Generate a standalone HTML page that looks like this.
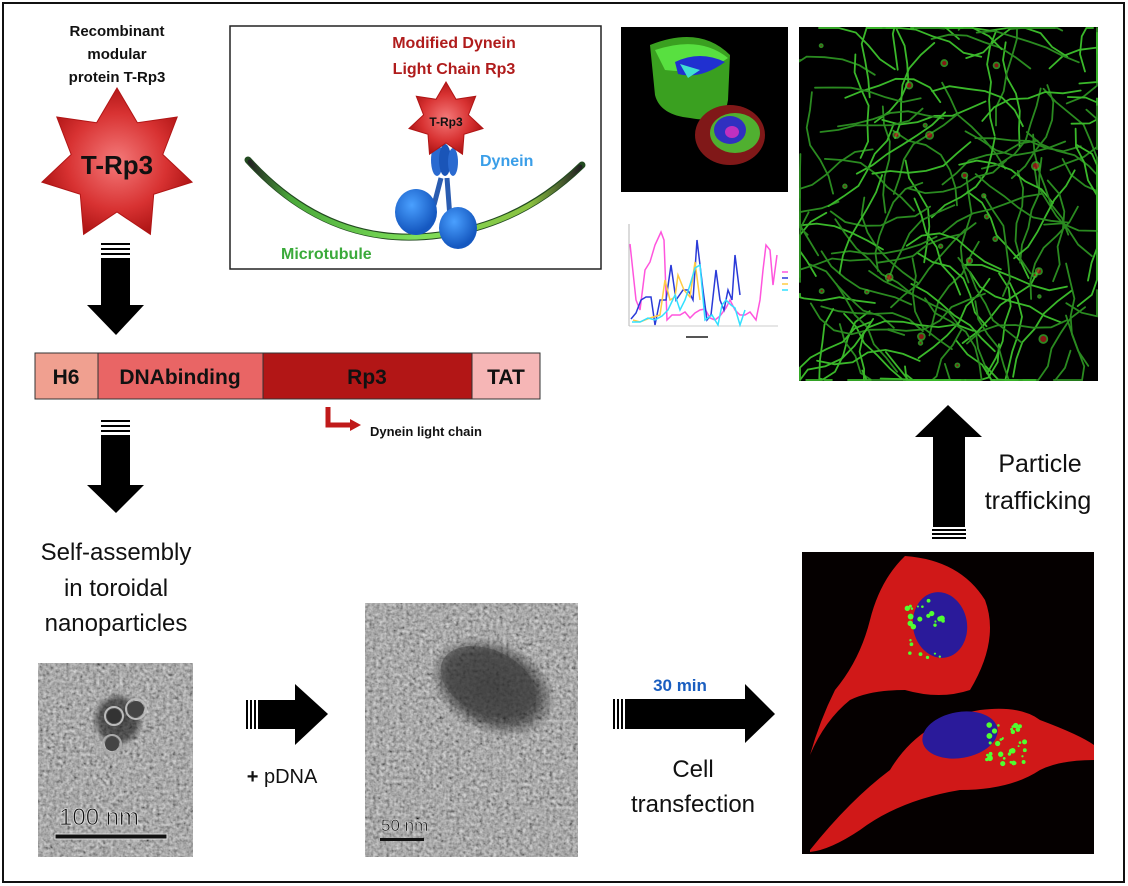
<!DOCTYPE html>
<html><head><meta charset="utf-8">
<style>
html,body{margin:0;padding:0;background:#fff;}
svg{display:block;}
text{font-family:"Liberation Sans","DejaVu Sans",sans-serif;}
</style></head>
<body>
<svg id="s" width="1128" height="886" viewBox="0 0 1128 886" xmlns="http://www.w3.org/2000/svg">
<defs>
<radialGradient id="star" cx="50%" cy="50%" r="55%">
<stop offset="0" stop-color="#f47a7a"/><stop offset="0.6" stop-color="#d83232"/><stop offset="1" stop-color="#a81010"/>
</radialGradient>
<linearGradient id="mt" x1="0" x2="1"><stop offset="0" stop-color="#222"/><stop offset="0.12" stop-color="#4aa83a"/><stop offset="0.5" stop-color="#7ee05a"/><stop offset="0.85" stop-color="#8ac040"/><stop offset="1" stop-color="#222"/></linearGradient>
<filter id="noise" x="0" y="0" width="100%" height="100%">
<feTurbulence type="fractalNoise" baseFrequency="0.3" numOctaves="2" seed="3"/>
<feColorMatrix type="matrix" values="0.33 0.33 0.33 0 0  0.33 0.33 0.33 0 0  0.33 0.33 0.33 0 0  0 0 0 0 1"/>
<feComponentTransfer><feFuncR type="linear" slope="1.5" intercept="-0.3"/><feFuncG type="linear" slope="1.5" intercept="-0.3"/><feFuncB type="linear" slope="1.5" intercept="-0.3"/></feComponentTransfer>
</filter>
<radialGradient id="blob" cx="50%" cy="50%" r="50%"><stop offset="0" stop-color="#000" stop-opacity="0.6"/><stop offset="0.7" stop-color="#000" stop-opacity="0.5"/><stop offset="1" stop-color="#000" stop-opacity="0"/></radialGradient>
<radialGradient id="blue" cx="40%" cy="35%" r="60%"><stop offset="0" stop-color="#4aa0ff"/><stop offset="1" stop-color="#1558c0"/></radialGradient>
</defs>

<rect x="3" y="3" width="1121" height="879" fill="#fff" stroke="#111" stroke-width="2"/>

<g font-weight="bold" font-size="15" text-anchor="middle" fill="#111">
<text x="117" y="36">Recombinant</text>
<text x="117" y="59">modular</text>
<text x="117" y="82">protein T-Rp3</text>
</g>
<polygon id="bigstar" fill="url(#star)" stroke="#b01515" stroke-width="1"/>
<text x="117" y="174" font-size="26" font-weight="bold" text-anchor="middle" fill="#111">T-Rp3</text>

<g fill="#000">
<rect x="101" y="243" width="29" height="2"/><rect x="101" y="248" width="29" height="2"/><rect x="101" y="253" width="29" height="2"/>
<rect x="101" y="258" width="29" height="48"/>
<polygon points="87,305 144,305 116,335"/>
</g>

<rect x="230" y="26" width="371" height="243" fill="#fff" stroke="#222" stroke-width="1.5"/>
<g font-weight="bold" font-size="16" text-anchor="middle" fill="#b01c1c">
<text x="454" y="48">Modified Dynein</text>
<text x="454" y="74">Light Chain Rp3</text>
</g>
<path d="M248,160 Q330,250 440,235 Q520,225 582,165" fill="none" stroke="#224a20" stroke-width="7" stroke-linecap="round"/>
<path d="M250,162 Q330,250 440,235 Q520,225 580,167" fill="none" stroke="url(#mt)" stroke-width="5" stroke-linecap="round"/>
<path d="M441,178 L434,205 M447,178 L450,218" stroke="#2a5cb0" stroke-width="5" fill="none"/>
<ellipse cx="437" cy="160" rx="6" ry="16" fill="#2a6ad0"/><ellipse cx="445" cy="160" rx="6" ry="16" fill="#1a55b8"/><ellipse cx="453" cy="162" rx="5" ry="14" fill="#2a6ad0"/>
<ellipse cx="416" cy="212" rx="21" ry="23" fill="url(#blue)"/>
<ellipse cx="458" cy="228" rx="19" ry="21" fill="url(#blue)"/>
<polygon id="smallstar" fill="url(#star)" stroke="#b01515" stroke-width="1"/>
<text x="446" y="126" font-size="12" font-weight="bold" text-anchor="middle" fill="#111">T-Rp3</text>
<text x="480" y="166" font-size="16" font-weight="bold" fill="#3a9ee8">Dynein</text>
<text x="281" y="259" font-size="16" font-weight="bold" fill="#3aaa3a">Microtubule</text>

<g stroke="#333" stroke-width="1">
<rect x="35" y="353" width="63" height="46" fill="#f0a090"/>
<rect x="98" y="353" width="165" height="46" fill="#e96565"/>
<rect x="263" y="353" width="209" height="46" fill="#b21616"/>
<rect x="472" y="353" width="68" height="46" fill="#f6b6b6"/>
</g>
<g font-weight="bold" font-size="21" fill="#111" text-anchor="middle">
<text x="66" y="384">H6</text><text x="180" y="384">DNAbinding</text><text x="367" y="384">Rp3</text><text x="506" y="384">TAT</text>
</g>
<path d="M328,407 L328,425 L352,425" fill="none" stroke="#c01a1a" stroke-width="5"/>
<polygon points="350,419 361,425 350,431" fill="#c01a1a"/>
<text x="370" y="436" font-size="13" font-weight="bold" fill="#111">Dynein light chain</text>

<g fill="#000">
<rect x="101" y="420" width="29" height="2"/><rect x="101" y="425" width="29" height="2"/><rect x="101" y="430" width="29" height="2"/>
<rect x="101" y="435" width="29" height="51"/>
<polygon points="87,485 144,485 116,513"/>
</g>
<g font-size="24" text-anchor="middle" fill="#111">
<text x="116" y="560">Self-assembly</text>
<text x="116" y="596">in toroidal</text>
<text x="116" y="631">nanoparticles</text>
</g>

<rect x="38" y="663" width="155" height="194" fill="#777"/>
<rect x="38" y="663" width="155" height="194" filter="url(#noise)" opacity="0.85"/>
<ellipse cx="118" cy="720" rx="26" ry="28" fill="url(#blob)"/>
<circle cx="114" cy="716" r="9" fill="none" stroke="#bbb" stroke-width="2"/><circle cx="114" cy="716" r="7" fill="#333"/>
<circle cx="136" cy="709" r="10" fill="none" stroke="#bbb" stroke-width="2"/><circle cx="136" cy="709" r="8" fill="#444"/>
<circle cx="112" cy="744" r="9" fill="none" stroke="#aaa" stroke-width="2"/><circle cx="112" cy="744" r="7" fill="#444"/>
<text x="59" y="825" font-size="24" fill="#111" stroke="#ddd" stroke-width="0.8">100  nm</text>
<rect x="55" y="834" width="112" height="5" fill="#111" stroke="#ddd" stroke-width="1"/>

<g fill="#000">
<rect x="246" y="700" width="2" height="29"/><rect x="250" y="700" width="2" height="29"/><rect x="254" y="700" width="2" height="29"/>
<rect x="258" y="700" width="38" height="29"/>
<polygon points="295,684 295,745 328,714"/>
</g>
<text x="282" y="783" font-size="20" text-anchor="middle" fill="#111"><tspan font-weight="bold">+</tspan> pDNA</text>

<rect x="365" y="603" width="213" height="254" fill="#777"/>
<rect x="365" y="603" width="213" height="254" filter="url(#noise)" opacity="0.85"/>
<ellipse cx="493" cy="687" rx="66" ry="46" transform="rotate(25 493 687)" fill="url(#blob)"/>
<ellipse cx="488" cy="682" rx="50" ry="32" transform="rotate(25 488 682)" fill="#444" opacity="0.5"/>
<text x="381" y="831" font-size="17" fill="#111" stroke="#ddd" stroke-width="0.5">50 nm</text>
<rect x="380" y="838" width="44" height="3" fill="#111"/>

<g fill="#000">
<rect x="613" y="699" width="2" height="30"/><rect x="617" y="699" width="2" height="30"/><rect x="621" y="699" width="2" height="30"/>
<rect x="625" y="699" width="122" height="30"/>
<polygon points="745,684 745,743 775,714"/>
</g>
<text x="680" y="691" font-size="17" font-weight="bold" text-anchor="middle" fill="#1a5ec0">30 min</text>
<g font-size="24" text-anchor="middle" fill="#111">
<text x="693" y="777">Cell</text>
<text x="693" y="812">transfection</text>
</g>

<rect x="802" y="552" width="292" height="302" fill="#050000"/>
<g id="cells"></g>

<g fill="#000">
<polygon points="948,405 915,437 982,437"/>
<rect x="933" y="436" width="32" height="91"/>
<rect x="932" y="529" width="34" height="2"/><rect x="932" y="533" width="34" height="2"/><rect x="932" y="537" width="34" height="2"/>
</g>
<g font-size="25" fill="#111" text-anchor="middle">
<text x="1040" y="472">Particle</text>
<text x="1038" y="509">trafficking</text>
</g>

<rect x="621" y="27" width="167" height="165" fill="#000"/>
<path d="M650,45 Q700,25 730,55 L728,100 Q725,125 690,118 Q660,115 655,95 Z" fill="#3aa020"/>
<path d="M655,50 Q700,35 728,58 Q705,75 665,70 Z" fill="#58e040"/>
<path d="M675,62 Q700,50 725,62 Q700,80 678,74 Z" fill="#2030d0"/>
<path d="M680,64 L700,70 L688,78 Z" fill="#40e0d0"/>
<ellipse cx="730" cy="135" rx="35" ry="30" fill="#801818"/>
<ellipse cx="735" cy="133" rx="25" ry="20" fill="#50b030"/>
<ellipse cx="730" cy="130" rx="16" ry="14" fill="#3030c0"/>
<ellipse cx="732" cy="132" rx="7" ry="6" fill="#c030c0"/>

<g fill="none" stroke-width="1.5">
<line x1="629" y1="224" x2="629" y2="326" stroke="#999" stroke-width="0.7"/>
<line x1="629" y1="326" x2="778" y2="326" stroke="#bbb" stroke-width="0.7"/>
<polyline stroke="#ff55dd" points="630,244 636,300 640,310 645,270 650,262 655,245 661,232 664,240 667,320 672,315 680,315 685,312 690,318 695,313 700,310 705,309 710,318 715,320 720,316 726,308 730,300 735,310 740,315 745,315 750,312 756,320 760,300 763,270 766,245 770,250 773,285 777,255"/>
<polyline stroke="#2a3ad8" points="631,319 636,313 641,300 646,297 651,297 655,325 660,300 666,300 671,265 676,300 683,290 688,290 693,300 697,240 703,290 707,320 711,315 716,270 720,300 724,310 728,290 732,300 735,255 740,295"/>
<polyline stroke="#ffcc44" points="633,320 640,322 650,318 660,315 665,280 670,300 675,297 678,275 684,290 690,297 695,262 700,300"/>
<polyline stroke="#33e0ff" points="632,322 640,322 648,318 655,320 662,316 668,310 675,295 680,310 685,300 690,285 695,268 700,265 705,320 712,315 718,325 722,305 726,300 731,305 735,308 740,325 745,310"/>
<line x1="782" y1="272" x2="788" y2="272" stroke="#ff55dd"/><line x1="782" y1="278" x2="788" y2="278" stroke="#2a3ad8"/><line x1="782" y1="284" x2="788" y2="284" stroke="#ffcc44"/><line x1="782" y1="290" x2="788" y2="290" stroke="#33e0ff"/>
</g>
<rect x="686" y="336" width="22" height="2" fill="#555"/>

<rect x="799" y="27" width="299" height="354" fill="#000"/>
<g id="fib" fill="none" stroke="#40c030" stroke-width="1.8" stroke-linecap="round"></g>
</svg>
<script>
(function(){
var s=12345;function r(){s=(s*1103515245+12345)%2147483648;return s/2147483648;}
var NS="http://www.w3.org/2000/svg";
function star(id,cx,cy,R,ri){var p=[];for(var i=0;i<14;i++){var a=-Math.PI/2+i*Math.PI/7;var rr=i%2?ri:R;p.push((cx+rr*Math.cos(a)).toFixed(1)+","+(cy+rr*Math.sin(a)).toFixed(1));}document.getElementById(id).setAttribute("points",p.join(" "));}
star("bigstar",117,165,77,47);star("smallstar",446,120,38,23);
var g=document.getElementById("fib");
for(var k=0;k<150;k++){
 var x=800+r()*297,y=28+r()*352;
 if(x<860&&y<120)continue;
 var d="M"+x.toFixed(1)+","+y.toFixed(1);var a=r()*6.28;
 for(var j=0;j<6;j++){a+=(r()-0.5)*1.0;x+=Math.cos(a)*18;y+=Math.sin(a)*18;x=Math.max(800,Math.min(1097,x));y=Math.max(28,Math.min(380,y));d+=" L"+x.toFixed(1)+","+y.toFixed(1);}
 var p=document.createElementNS(NS,"path");p.setAttribute("d",d);p.setAttribute("stroke",r()>0.5?"#3ab82a":"#2a8a20");g.appendChild(p);}
for(var k=0;k<25;k++){var c=document.createElementNS(NS,"circle");c.setAttribute("cx",820+r()*270);c.setAttribute("cy",40+r()*330);c.setAttribute("r",1+r()*3);c.setAttribute("fill","#c02020");c.setAttribute("opacity","0.7");g.appendChild(c);}
var cg=document.getElementById("cells");
function add(tag,at){var e=document.createElementNS(NS,tag);for(var k in at)e.setAttribute(k,at[k]);cg.appendChild(e);return e;}
add("path",{d:"M905,556 Q960,560 985,600 Q1000,640 970,690 Q940,700 905,690 Q870,690 850,700 Q825,720 810,755 Q820,720 835,690 Q860,660 870,620 Q880,580 905,556 Z",fill:"#d01818"});
add("path",{d:"M810,850 Q850,800 890,770 Q920,720 980,710 Q1020,705 1040,720 Q1080,735 1094,745 L1094,760 Q1060,760 1040,770 Q1010,790 960,790 Q900,800 860,830 Q830,850 810,852 Z",fill:"#d01818"});
add("ellipse",{cx:940,cy:625,rx:27,ry:33,fill:"#2a1a9a",transform:"rotate(-10 940 625)"});
add("ellipse",{cx:960,cy:735,rx:38,ry:23,fill:"#2a1a9a",transform:"rotate(-10 960 735)"});
for(var k=0;k<60;k++){var cx,cy;if(k<25){cx=905+r()*40;cy=600+r()*60;}else{cx=985+r()*40;cy=725+r()*40;}add("circle",{cx:cx,cy:cy,r:1+r()*2,fill:"#50ff30"});}
})();
</script>
</body></html>
